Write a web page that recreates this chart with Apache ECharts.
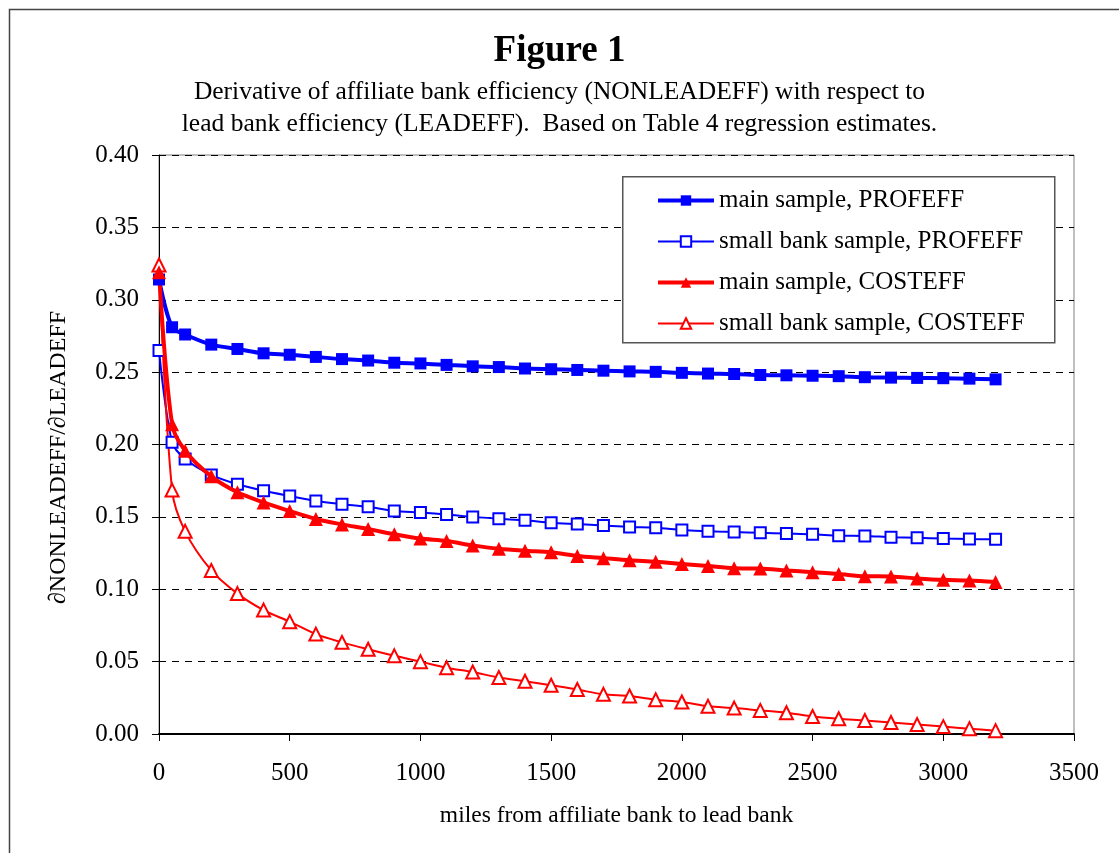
<!DOCTYPE html>
<html>
<head>
<meta charset="utf-8">
<script src="https://cdn.jsdelivr.net/npm/echarts@6/dist/echarts.min.js"></script>
<style>
html,body{margin:0;padding:0;background:#fff;}
#chart{width:1119px;height:853px;}
</style>
</head>
<body>
<div id="chart"></div>
<script>
var titleText = 'Figure 1';
var subtitleLines = ['Derivative of affiliate bank efficiency (NONLEADEFF) with respect to',
                     'lead bank efficiency (LEADEFF).  Based on Table 4 regression estimates.'];
var xAxisName = 'miles from affiliate bank to lead bank';
var yAxisName = '\u2202NONLEADEFF/\u2202LEADEFF';
var seriesNames = ['main sample, PROFEFF', 'small bank sample, PROFEFF', 'main sample, COSTEFF', 'small bank sample, COSTEFF'];

var distances = [0, 50, 100, 200, 300, 400, 500, 600, 700, 800, 900, 1000, 1100, 1200, 1300, 1400, 1500, 1600,
                 1700, 1800, 1900, 2000, 2100, 2200, 2300, 2400, 2500, 2600, 2700, 2800, 2900, 3000, 3100, 3200];
var mainProf = [0.314, 0.281, 0.276, 0.269, 0.266, 0.263, 0.262, 0.2605, 0.259, 0.258, 0.2565, 0.256, 0.255, 0.254,
                0.2535, 0.2525, 0.252, 0.2515, 0.251, 0.2505, 0.2502, 0.2495, 0.249, 0.2487, 0.248, 0.2478, 0.2475,
                0.2472, 0.2465, 0.2462, 0.246, 0.2458, 0.2455, 0.245];
var smallProf = [0.265, 0.2015, 0.190, 0.179, 0.1725, 0.168, 0.1644, 0.161, 0.1588, 0.157, 0.154, 0.153, 0.1517, 0.150,
                 0.1487, 0.1476, 0.146, 0.145, 0.144, 0.143, 0.1425, 0.141, 0.140, 0.1395, 0.139, 0.1385, 0.138,
                 0.137, 0.1368, 0.136, 0.1355, 0.135, 0.1347, 0.1345];
var mainCost = [0.319, 0.214, 0.1957, 0.178, 0.167, 0.160, 0.154, 0.1485, 0.1448, 0.1416, 0.138, 0.135, 0.1333, 0.1303,
                0.128, 0.1266, 0.1255, 0.123, 0.1215, 0.120, 0.119, 0.1175, 0.116, 0.1145, 0.1143, 0.113, 0.1118,
                0.1105, 0.109, 0.1088, 0.1075, 0.1065, 0.106, 0.105];
var smallCost = [0.324, 0.1685, 0.140, 0.113, 0.097, 0.0856, 0.0776, 0.069, 0.0633, 0.0585, 0.054, 0.050, 0.0458, 0.0428,
                 0.039, 0.0364, 0.0337, 0.0307, 0.0274, 0.0263, 0.0237, 0.0221, 0.0191, 0.0179, 0.0163, 0.0147, 0.0121,
                 0.0105, 0.0093, 0.0079, 0.0065, 0.0051, 0.0037, 0.0023];

function pairs(ys){ return distances.map(function(x,i){ return [x, ys[i]]; }); }

var FONT = '"Liberation Serif", "Times New Roman", serif';
var BLUE = '#0000FF', RED = '#FF0000';

var chart = echarts.init(document.getElementById('chart'), null, {renderer:'canvas'});
chart.setOption({
  animation: false,
  backgroundColor: '#fff',
  textStyle: {fontFamily: FONT, color: '#000'},
  title: [
    {text: titleText, left: 'center', top: 28, textStyle: {fontFamily: FONT, fontSize: 37, fontWeight: 'bold', color: '#000'}},
    {text: subtitleLines.join('\n'), left: 'center', top: 71,
     textStyle: {fontFamily: FONT, fontSize: 25.5, fontWeight: 'normal', color: '#000', lineHeight: 32}}
  ],
  graphic: [
    {type: 'rect', left: 7, top: 7, z: -10, shape: {width: 1300, height: 1000},
     style: {fill: 'none', stroke: '#444', lineWidth: 1.5}},
    {type: 'rect', left: 622, top: 176, z: 3, shape: {width: 432, height: 166},
     style: {fill: '#fff', stroke: '#555', lineWidth: 1.5}}
  ],
  legend: {
    orient: 'vertical', left: 651, top: 183, z: 5,
    itemWidth: 56, itemHeight: 13, itemGap: 16,
    lineStyle: {width: 'inherit'},
    textStyle: {fontFamily: FONT, fontSize: 25, lineHeight: 25, color: '#000'},
    data: seriesNames
  },
  grid: {left: 159, right: 45, top: 155, bottom: 119, show: true, borderColor: '#808080', borderWidth: 1},
  xAxis: {
    type: 'value', min: 0, max: 3500, interval: 500,
    name: xAxisName, nameLocation: 'middle', nameGap: 70,
    nameTextStyle: {fontFamily: FONT, fontSize: 23.5, color: '#000'},
    axisLine: {show: true, lineStyle: {color: '#000', width: 2}},
    axisTick: {show: true, inside: false, length: 7, lineStyle: {color: '#000', width: 1}},
    axisLabel: {fontFamily: FONT, fontSize: 25, color: '#000', margin: 27,
                formatter: function(v){ return String(v); }},
    splitLine: {show: false}
  },
  yAxis: {
    type: 'value', min: 0, max: 0.4, interval: 0.05,
    name: yAxisName, nameLocation: 'middle', nameGap: 88, nameRotate: 90,
    nameTextStyle: {fontFamily: FONT, fontSize: 24, color: '#000', padding: [0, 26, 0, 0]},
    axisLine: {show: true, lineStyle: {color: '#000', width: 1}},
    axisTick: {show: true, inside: false, length: 7, lineStyle: {color: '#000', width: 1}},
    axisLabel: {fontFamily: FONT, fontSize: 25, color: '#000', margin: 20,
                formatter: function(v){ return v.toFixed(2); }},
    splitLine: {show: true, lineStyle: {color: '#000', width: 1, type: [7, 6]}}
  },
  series: [
    {name: seriesNames[0], type: 'line', data: pairs(mainProf), smooth: 0.3,
     symbol: 'rect', symbolSize: 12, itemStyle: {color: BLUE}, lineStyle: {color: BLUE, width: 4}, z: 4},
    {name: seriesNames[1], type: 'line', data: pairs(smallProf), smooth: 0.3,
     symbol: 'rect', symbolSize: 11, itemStyle: {color: '#fff', borderColor: BLUE, borderWidth: 2},
     lineStyle: {color: BLUE, width: 2}, z: 3},
    {name: seriesNames[2], type: 'line', data: pairs(mainCost), smooth: 0.3,
     symbol: 'triangle', symbolSize: 14, itemStyle: {color: RED}, lineStyle: {color: RED, width: 4}, z: 4},
    {name: seriesNames[3], type: 'line', data: pairs(smallCost), smooth: 0.3,
     symbol: 'triangle', symbolSize: 13, itemStyle: {color: '#fff', borderColor: RED, borderWidth: 2},
     lineStyle: {color: RED, width: 2}, z: 3}
  ]
});
</script>
</body>
</html>
